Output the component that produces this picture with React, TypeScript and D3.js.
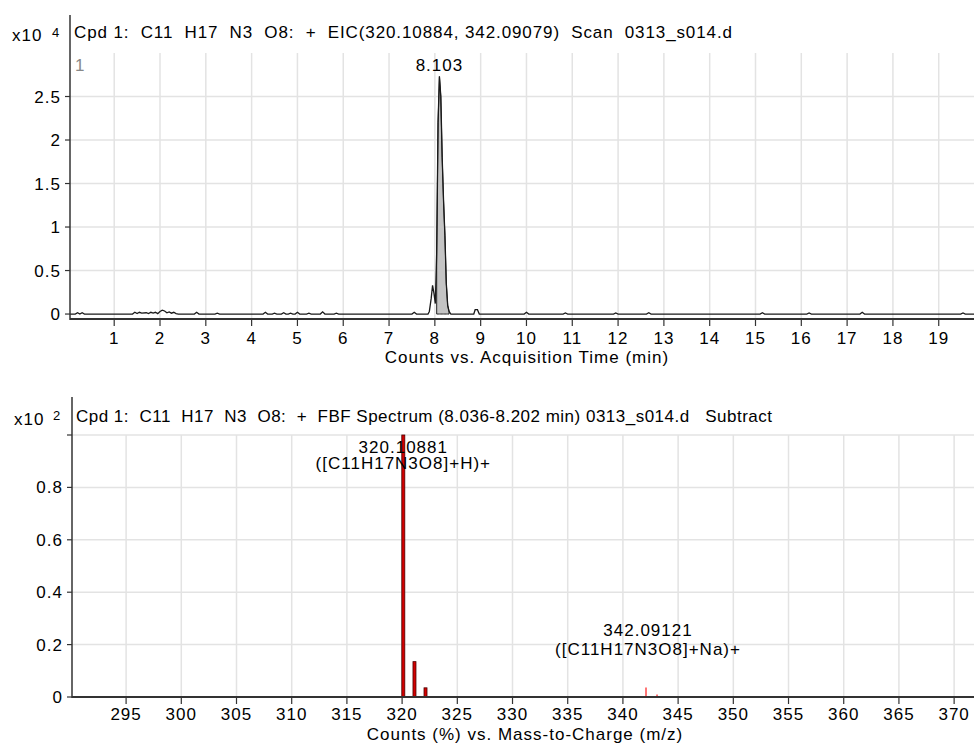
import React from 'react';
import * as d3 from 'd3';

// EIC trace, x10^4 counts
const rtTimes = [0.035, 0.15, 0.2, 0.25, 0.3, 0.35, 1.4, 1.45, 1.5, 1.55, 1.6, 1.7, 1.75, 1.8, 1.85, 1.9, 1.95, 2.0, 2.05, 2.1, 2.15, 2.2, 2.25, 2.3, 2.35, 2.4,
  2.75, 2.8, 2.85, 3.2, 3.25, 3.3, 4.25, 4.3, 4.35, 4.45, 4.5, 4.55, 4.65, 4.7, 4.75, 4.8, 4.85, 4.9, 4.95, 5.0, 5.05, 5.2, 5.25, 5.3, 5.5, 5.55, 5.6, 5.8, 5.85, 5.9,
  7.5, 7.55, 7.6, 7.85, 7.88, 7.92, 7.95, 7.98, 8.01, 8.04, 8.07, 8.1, 8.13, 8.16, 8.19, 8.22, 8.25, 8.28, 8.31, 8.35,
  8.85, 8.88, 8.93, 8.97, 9.95, 10.0, 10.05, 10.8, 10.85, 10.9, 11.9, 11.95, 12.0, 12.62, 12.67, 12.72, 15.1, 15.15, 15.2, 16.12, 16.17, 16.22,
  17.28, 17.33, 17.38, 19.48, 19.53, 19.58, 19.77];
const rtCounts = [0, 0, 0.015, 0, 0.015, 0, 0, 0.02, 0.005, 0.02, 0.01, 0.015, 0.005, 0.02, 0.01, 0.02, 0.005, 0.03, 0.045, 0.035, 0.015, 0.025, 0.01, 0.02, 0.005, 0,
  0, 0.02, 0, 0, 0.01, 0, 0, 0.02, 0, 0, 0.01, 0, 0, 0.015, 0, 0, 0.01, 0, 0, 0.02, 0, 0, 0.01, 0, 0, 0.025, 0, 0, 0.01, 0,
  0, 0.02, 0, 0, 0.03, 0.18, 0.33, 0.24, 0.12, 0.7, 2.2, 2.73, 2.5, 1.8, 1.3, 0.9, 0.35, 0.1, 0.03, 0,
  0, 0.05, 0.05, 0, 0, 0.02, 0, 0, 0.012, 0, 0, 0.012, 0, 0, 0.015, 0, 0, 0.015, 0, 0, 0.012, 0,
  0, 0.02, 0, 0, 0.012, 0, 0];
const peakStart = 8.02;
const peakEnd = 8.31;
const peakLabel = '8.103';
const peakApex = 8.1;

const rtTicks = d3.range(1, 20);
const countTicks = [0, 0.5, 1, 1.5, 2, 2.5];

// spectrum, x10^2 %
const mainMz = [320.10881, 321.12, 322.12];
const mainRel = [1.0, 0.135, 0.035];
const minorMz = [342.09121, 343.09];
const minorRel = [0.036, 0.01];
const mzTicks = d3.range(295, 371, 5);
const relTicks = [0, 0.2, 0.4, 0.6, 0.8, 1.0];
const relLabels = ['0', '0.2', '0.4', '0.6', '0.8', ''];

const topTitle = 'Cpd 1:  C11  H17  N3  O8:  +  EIC(320.10884, 342.09079)  Scan  0313_s014.d';
const bottomTitle = 'Cpd 1:  C11  H17  N3  O8:  +  FBF Spectrum (8.036-8.202 min) 0313_s014.d   Subtract';

const font = '"Liberation Sans", Arial, sans-serif';
const grid = '#e3e3e3';
const axis = '#333';

export default function App() {
  const w = 974, h = 743;

  // top panel
  const x1 = d3.scaleLinear().domain([0.035, 19.77]).range([70, 974]);
  const y1 = d3.scaleLinear().domain([-0.057, 3.0]).range([319, 53]);
  const trace = rtTimes.map((t, i) => [t, rtCounts[i]] as [number, number]);
  const line1 = d3.line<[number, number]>().x(d => x1(d[0])).y(d => y1(d[1]));
  const peakPts = trace.filter(d => d[0] >= peakStart && d[0] <= peakEnd);
  const area1 = d3.area<[number, number]>().x(d => x1(d[0])).y0(y1(0)).y1(d => y1(d[1]));

  // bottom panel
  const x2 = d3.scaleLinear().domain([290.1, 371.8]).range([72, 974]);
  const y2 = d3.scaleLinear().domain([0, 1.0]).range([697, 435]);

  const txt = { fontFamily: font, fontSize: 17, fill: '#000', letterSpacing: 1 } as const;

  return (
    <svg width={w} height={h} style={{ position: 'absolute', left: 0, top: 0, background: '#fff' }}>
      {/* ---------- top: EIC ---------- */}
      <g>
        {rtTicks.map(t => (
          <line key={'vg' + t} x1={x1(t)} x2={x1(t)} y1={53} y2={319} stroke={grid} strokeWidth={1.5} />
        ))}
        {countTicks.filter(v => v > 0).map(v => (
          <line key={'hg' + v} x1={70} x2={974} y1={y1(v)} y2={y1(v)} stroke={grid} strokeWidth={1.5} />
        ))}
        <path d={area1(peakPts) || ''} fill="#c4c4c4" stroke="#222" strokeWidth={1} />
        <path d={line1(trace) || ''} fill="none" stroke="#1a1a1a" strokeWidth={1.3} />
        <text x={x1(peakApex)} y={71} textAnchor="middle" {...txt}>{peakLabel}</text>
        <text x={75} y={71} {...txt} fill="#888">1</text>

        <line x1={70} x2={70} y1={15} y2={320} stroke={axis} strokeWidth={1.5} />
        <line x1={70} x2={974} y1={319} y2={319} stroke={axis} strokeWidth={2} />
        {countTicks.map(v => (
          <g key={'yt' + v}>
            <line x1={65} x2={70} y1={y1(v)} y2={y1(v)} stroke={axis} strokeWidth={1.2} />
            <text x={61} y={y1(v) + 6} textAnchor="end" {...txt}>{String(v)}</text>
          </g>
        ))}
        {rtTicks.map(t => (
          <g key={'xt' + t}>
            <line x1={x1(t)} x2={x1(t)} y1={320} y2={326} stroke={axis} strokeWidth={1.2} />
            <text x={x1(t)} y={344} textAnchor="middle" {...txt}>{String(t)}</text>
          </g>
        ))}
        <text x={527} y={363} textAnchor="middle" {...txt}>Counts vs. Acquisition Time (min)</text>
        <text x={12} y={41} {...txt}>x10</text>
        <text x={52} y={37} {...txt} fontSize={13}>4</text>
        <text x={74} y={38} {...txt} style={{ whiteSpace: 'pre' }} textLength={659} lengthAdjust="spacing">
          {topTitle}
        </text>
      </g>

      {/* ---------- bottom: spectrum ---------- */}
      <g>
        {mzTicks.map(m => (
          <line key={'vg2' + m} x1={x2(m)} x2={x2(m)} y1={435} y2={697} stroke={grid} strokeWidth={1.5} />
        ))}
        {relTicks.filter(v => v > 0).map(v => (
          <line key={'hg2' + v} x1={72} x2={974} y1={y2(v)} y2={y2(v)} stroke={grid} strokeWidth={1.5} />
        ))}
        {mainMz.map((m, i) => (
          <rect key={'mb' + m} x={x2(m) - 1.5} width={3} y={y2(mainRel[i])} height={y2(0) - y2(mainRel[i])}
            fill="#d40000" stroke="#4a0000" strokeWidth={0.8} />
        ))}
        {minorMz.map((m, i) => (
          <line key={'nb' + m} x1={x2(m)} x2={x2(m)} y1={y2(minorRel[i])} y2={y2(0)} stroke="#ff1a1a" strokeWidth={1.2} />
        ))}
        <text x={x2(mainMz[0])} y={453} textAnchor="middle" {...txt}>320.10881</text>
        <text x={x2(mainMz[0])} y={469} textAnchor="middle" {...txt}>([C11H17N3O8]+H)+</text>
        <text x={x2(minorMz[0]) + 2} y={636} textAnchor="middle" {...txt}>342.09121</text>
        <text x={x2(minorMz[0]) + 2} y={655} textAnchor="middle" {...txt}>([C11H17N3O8]+Na)+</text>

        <line x1={72} x2={72} y1={397} y2={698} stroke={axis} strokeWidth={1.5} />
        <line x1={72} x2={974} y1={697} y2={697} stroke={axis} strokeWidth={2} />
        {relTicks.map((v, i) => (
          <g key={'yt2' + v}>
            <line x1={67} x2={72} y1={y2(v)} y2={y2(v)} stroke={axis} strokeWidth={1.2} />
            <text x={63} y={y2(v) + 6} textAnchor="end" {...txt}>{relLabels[i]}</text>
          </g>
        ))}
        {mzTicks.map(m => (
          <g key={'xt2' + m}>
            <line x1={x2(m)} x2={x2(m)} y1={698} y2={704} stroke={axis} strokeWidth={1.2} />
            <text x={x2(m)} y={720} textAnchor="middle" {...txt}>{String(m)}</text>
          </g>
        ))}
        <text x={525} y={740} textAnchor="middle" {...txt}>Counts (%) vs. Mass-to-Charge (m/z)</text>
        <text x={14} y={425} {...txt}>x10</text>
        <text x={53} y={420} {...txt} fontSize={13}>2</text>
        <text x={76} y={422} {...txt} style={{ whiteSpace: 'pre' }} textLength={697} lengthAdjust="spacing">
          {bottomTitle}
        </text>
      </g>
    </svg>
  );
}
